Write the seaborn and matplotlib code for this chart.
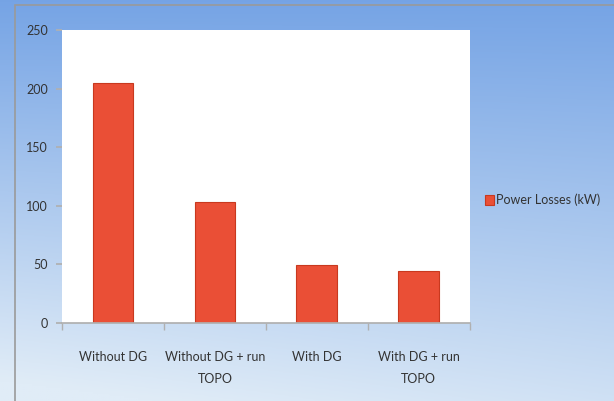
import numpy as np
import pandas as pd
import matplotlib
matplotlib.use("Agg")
import matplotlib.pyplot as plt
import seaborn as sns
from matplotlib.patches import Rectangle

scenarios = ["Without DG", "Without DG + run\nTOPO", "With DG", "With DG + run\nTOPO"]
power_losses = [205, 103, 49, 44]
series_name = "Power Losses (kW)"

df = pd.DataFrame({"scenario": scenarios, "loss": power_losses})

sns.set_theme(style="white")
plt.rcParams["font.family"] = ["Lato", "DejaVu Sans"]

fig = plt.figure(figsize=(6.14, 4.01), dpi=100)

# blue gradient background behind the whole chart
bg = fig.add_axes([0, 0, 1, 1], zorder=0)
yy, xx = np.mgrid[0:1:200j, 0:1:300j]
t = np.clip(0.8 * yy + 0.2 * (1 - xx) * yy + 0.05, 0, 1)
top = np.array([112, 160, 228]) / 255
bot = np.array([224, 236, 247]) / 255
img = top[None, None, :] * (1 - t[..., None]) + bot[None, None, :] * t[..., None]
bg.imshow(img[::-1], extent=[0, 1, 0, 1], aspect="auto", origin="lower")
bg.add_patch(Rectangle((0.024, -0.01), 1.0, 0.998, fill=False, edgecolor="#9a9a9a", lw=1.2,
                       transform=bg.transAxes))
bg.set_axis_off()

ax = fig.add_axes([0.101, 0.195, 0.664, 0.73], zorder=1)
sns.barplot(data=df, x="scenario", y="loss", color="#ea4f36", saturation=1, width=0.4,
            edgecolor="#c8391f", linewidth=0.8, ax=ax, label=series_name)

ax.set_facecolor("white")
ax.set_ylim(0, 250)
ax.set_xlim(-0.5, 3.5)
ax.set_yticks(range(0, 251, 50))
ax.set_xlabel("")
ax.set_ylabel("")
for s in ["top", "right", "left"]:
    ax.spines[s].set_visible(False)
ax.spines["bottom"].set_color("#b0b0b0")
ax.set_xticks(np.arange(-0.5, 4, 1), minor=True)
ax.tick_params(axis="x", which="major", length=0, pad=20, labelsize=9, colors="#333333")
ax.tick_params(axis="x", which="minor", length=5, color="#b0b0b0", bottom=True)
ax.tick_params(axis="y", length=4, color="#b0b0b0", left=True, labelsize=9,
               colors="#333333", pad=6)
for lbl in ax.get_xticklabels():
    lbl.set_linespacing(2.0)

leg = ax.legend(loc="center left", bbox_to_anchor=(1.01, 0.42), frameon=False,
                handlelength=0.7, handleheight=0.9, handletextpad=0.2, fontsize=9)
for txt in leg.get_texts():
    txt.set_color("#333333")

fig.savefig("out.png", dpi=100)
